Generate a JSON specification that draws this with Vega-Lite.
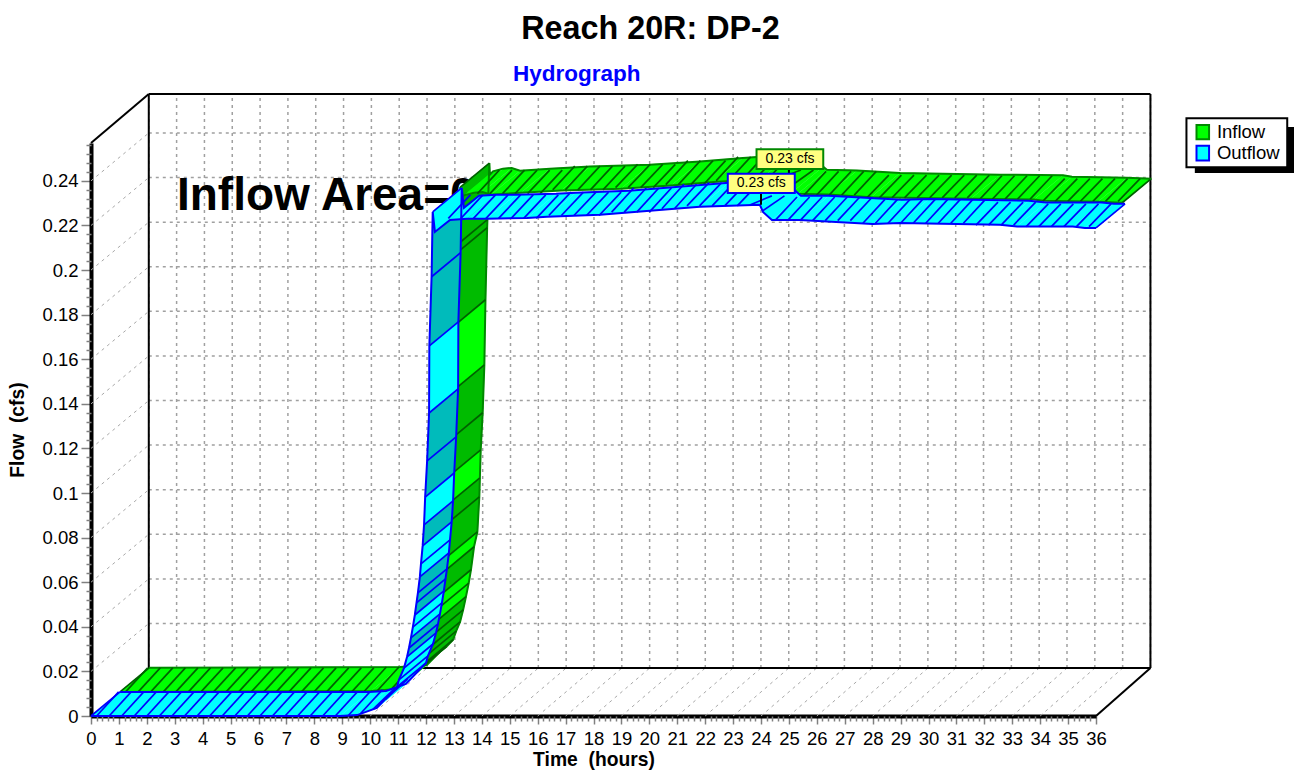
{"$schema":"https://vega.github.io/schema/vega-lite/v6.json","autosize":"none","width":1005,"height":573,"padding":{"left":91,"top":143,"right":198,"bottom":57},"background":"white","config":{"font":"Liberation Sans","view":{"stroke":null}},
"title":{"text":"Reach 20R: DP-2","fontSize":32.3,"fontWeight":"bold","color":"black","anchor":"middle","dx":57,"offset":18},
"datasets":{
"curve":[
{"s":"Outflow","c":"Outflow","t":0,"q":0},{"s":"Outflow","c":"Outflow","t":8.92,"q":0},{"s":"Outflow","c":"Outflow","t":9.53,"q":0.0004},{"s":"Outflow","c":"Outflow","t":10.24,"q":0.0036},{"s":"Outflow","c":"Outflow","t":10.96,"q":0.013},{"s":"Outflow","c":"Outflow","t":11.03,"q":0.0162},{"s":"Outflow","c":"Outflow","t":11.21,"q":0.0215},{"s":"Outflow","c":"OutflowDark","t":11.32,"q":0.0265},{"s":"Outflow","c":"OutflowDark","t":11.39,"q":0.0305},{"s":"Outflow","c":"Outflow","t":11.46,"q":0.035},{"s":"Outflow","c":"Outflow","t":11.53,"q":0.0399},{"s":"Outflow","c":"OutflowDark","t":11.6,"q":0.0453},{"s":"Outflow","c":"OutflowDark","t":11.66,"q":0.0507},{"s":"Outflow","c":"OutflowDark","t":11.71,"q":0.0552},{"s":"Outflow","c":"Outflow","t":11.78,"q":0.0624},{"s":"Outflow","c":"Outflow","t":11.82,"q":0.0682},{"s":"Outflow","c":"OutflowDark","t":11.88,"q":0.0763},{"s":"Outflow","c":"Outflow","t":11.93,"q":0.0857},{"s":"Outflow","c":"OutflowDark","t":11.97,"q":0.0982},{"s":"Outflow","c":"OutflowDark","t":12.04,"q":0.1144},{"s":"Outflow","c":"Outflow","t":12.11,"q":0.1359},{"s":"Outflow","c":"OutflowDark","t":12.12,"q":0.166},{"s":"Outflow","c":"OutflowDark","t":12.2,"q":0.197},{"s":"Outflow","c":"Outflow","t":12.24,"q":0.2261},{"s":"Outflow","c":"Outflow","t":12.32,"q":0.2171},{"s":"Outflow","c":"Outflow","t":12.86,"q":0.2225},{"s":"Outflow","c":"Outflow","t":13.47,"q":0.223},{"s":"Outflow","c":"Outflow","t":14.18,"q":0.223},{"s":"Outflow","c":"Outflow","t":15.62,"q":0.2234},{"s":"Outflow","c":"Outflow","t":16.33,"q":0.2239},{"s":"Outflow","c":"Outflow","t":18.23,"q":0.2248},{"s":"Outflow","c":"Outflow","t":20.02,"q":0.2266},{"s":"Outflow","c":"Outflow","t":21.81,"q":0.2284},{"s":"Outflow","c":"Outflow","t":23.96,"q":0.2293},{"s":"Outflow","c":"Outflow","t":24.07,"q":0.2261},{"s":"Outflow","c":"Outflow","t":24.39,"q":0.2225},{"s":"Outflow","c":"Outflow","t":25.39,"q":0.2225},{"s":"Outflow","c":"Outflow","t":28,"q":0.2207},{"s":"Outflow","c":"Outflow","t":28.98,"q":0.2211},{"s":"Outflow","c":"Outflow","t":32.56,"q":0.2203},{"s":"Outflow","c":"Outflow","t":33.17,"q":0.2195},{"s":"Outflow","c":"Outflow","t":35.17,"q":0.2195},{"s":"Outflow","c":"Outflow","t":35.6,"q":0.2189},{"s":"Outflow","c":"Outflow","t":36,"q":0.2189},
{"s":"Inflow","c":"Inflow","t":0,"q":0},{"s":"Inflow","c":"Inflow","t":8.99,"q":0.0004},{"s":"Inflow","c":"Inflow","t":9.95,"q":0.0013},{"s":"Inflow","c":"InflowDark","t":10.42,"q":0.0072},{"s":"Inflow","c":"InflowDark","t":10.65,"q":0.0095},{"s":"Inflow","c":"InflowDark","t":10.89,"q":0.0126},{"s":"Inflow","c":"InflowDark","t":11,"q":0.0165},{"s":"Inflow","c":"InflowDark","t":11.14,"q":0.0206},{"s":"Inflow","c":"InflowDark","t":11.25,"q":0.026},{"s":"Inflow","c":"Inflow","t":11.35,"q":0.0319},{"s":"Inflow","c":"Inflow","t":11.45,"q":0.038},{"s":"Inflow","c":"InflowDark","t":11.53,"q":0.044},{"s":"Inflow","c":"Inflow","t":11.64,"q":0.0543},{"s":"Inflow","c":"InflowDark","t":11.76,"q":0.061},{"s":"Inflow","c":"InflowDark","t":11.83,"q":0.0767},{"s":"Inflow","c":"Inflow","t":11.85,"q":0.0852},{"s":"Inflow","c":"InflowDark","t":11.88,"q":0.0978},{"s":"Inflow","c":"InflowDark","t":11.95,"q":0.1144},{"s":"Inflow","c":"Inflow","t":12.01,"q":0.1359},{"s":"Inflow","c":"InflowDark","t":12.05,"q":0.1651},{"s":"Inflow","c":"InflowDark","t":12.11,"q":0.1974},{"s":"Inflow","c":"InflowDark","t":12.12,"q":0.201},{"s":"Inflow","c":"InflowDark","t":12.19,"q":0.2264},{"s":"Inflow","c":"Inflow","t":12.21,"q":0.2212},{"s":"Inflow","c":"Inflow","t":12.32,"q":0.2227},{"s":"Inflow","c":"Inflow","t":12.68,"q":0.2239},{"s":"Inflow","c":"Inflow","t":12.99,"q":0.2242},{"s":"Inflow","c":"Inflow","t":13.29,"q":0.223},{"s":"Inflow","c":"Inflow","t":14.36,"q":0.2239},{"s":"Inflow","c":"Inflow","t":15.8,"q":0.2249},{"s":"Inflow","c":"Inflow","t":17.94,"q":0.2257},{"s":"Inflow","c":"Inflow","t":19.74,"q":0.2271},{"s":"Inflow","c":"Inflow","t":21.27,"q":0.2287},{"s":"Inflow","c":"Inflow","t":22.96,"q":0.2301},{"s":"Inflow","c":"Inflow","t":24,"q":0.2305},{"s":"Inflow","c":"Inflow","t":24.14,"q":0.2248},{"s":"Inflow","c":"Inflow","t":24.28,"q":0.2234},{"s":"Inflow","c":"Inflow","t":25.36,"q":0.2231},{"s":"Inflow","c":"Inflow","t":26.9,"q":0.2219},{"s":"Inflow","c":"Inflow","t":30.48,"q":0.2212},{"s":"Inflow","c":"Inflow","t":32.74,"q":0.2209},{"s":"Inflow","c":"Inflow","t":33.06,"q":0.2203},{"s":"Inflow","c":"Inflow","t":35.03,"q":0.2198},{"s":"Inflow","c":"Inflow","t":35.9,"q":0.2194}
],
"hatch":[
{"s":"Outflow","q0":0,"q1":0.0108,"ts":[0.2,0.65,1.1,1.55,2,2.45,2.9,3.35,3.8,4.25,4.7,5.15,5.6,6.05,6.5,6.95,7.4,7.85,8.3,8.75,9.2]},
{"s":"Outflow","q0":0.001,"q1":0.0118,"ts":[9.65]},{"s":"Outflow","q0":0.003,"q1":0.0125,"ts":[10.1]},{"s":"Outflow","q0":0.0075,"q1":0.0165,"ts":[10.55]},
{"s":"Outflow","q0":0.2232,"q1":0.2337,"ts":[12.8,13.25,13.7,14.15,14.6,15.05,15.5,15.95]},
{"s":"Outflow","q0":0.2245,"q1":0.235,"ts":[16.4,16.85,17.3,17.75,18.2]},
{"s":"Outflow","q0":0.226,"q1":0.2368,"ts":[18.65,19.1,19.55,20]},
{"s":"Outflow","q0":0.2275,"q1":0.2385,"ts":[20.45,20.9]},
{"s":"Outflow","q0":0.2288,"q1":0.2392,"ts":[21.35,21.8,22.25,22.7,23.15]},
{"s":"Outflow","q0":0.2292,"q1":0.2333,"ts":[23.6]},{"s":"Outflow","q0":0.2265,"q1":0.2333,"ts":[24.05]},
{"s":"Outflow","q0":0.2222,"q1":0.2328,"ts":[24.5,24.95,25.4,25.85,26.3,26.75,27.2]},
{"s":"Outflow","q0":0.221,"q1":0.2317,"ts":[27.65,28.1,28.55,29,29.45,29.9,30.35,30.8,31.25]},
{"s":"Outflow","q0":0.2202,"q1":0.2305,"ts":[31.7,32.15,32.6,33.05]},
{"s":"Outflow","q0":0.2195,"q1":0.2297,"ts":[33.5,33.95,34.4,34.85,35.3,35.75]},
{"s":"Inflow","q0":0,"q1":0.0108,"ts":[0.2,0.65,1.1,1.55,2,2.45,2.9,3.35,3.8,4.25,4.7,5.15,5.6,6.05,6.5,6.95,7.4,7.85,8.3]},
{"s":"Inflow","q0":0.0003,"q1":0.0112,"ts":[8.75,9.2,9.65]},
{"s":"Inflow","q0":0.2235,"q1":0.234,"ts":[12.8,13.25,13.7,14.15,14.6,15.05]},
{"s":"Inflow","q0":0.2252,"q1":0.2358,"ts":[15.5,15.95,16.4,16.85,17.3]},
{"s":"Inflow","q0":0.2262,"q1":0.2366,"ts":[17.75,18.2,18.65,19.1]},
{"s":"Inflow","q0":0.2275,"q1":0.2383,"ts":[19.55,20,20.45,20.9]},
{"s":"Inflow","q0":0.2292,"q1":0.24,"ts":[21.35,21.8,22.25,22.7,23.15]},
{"s":"Inflow","q0":0.2303,"q1":0.2341,"ts":[23.6]},{"s":"Inflow","q0":0.227,"q1":0.2341,"ts":[24.05]},
{"s":"Inflow","q0":0.2228,"q1":0.2335,"ts":[24.5,24.95,25.4,25.85,26.3]},
{"s":"Inflow","q0":0.2216,"q1":0.2318,"ts":[26.75,27.2,27.65,28.1,28.55,29,29.45,29.9,30.35]},
{"s":"Inflow","q0":0.221,"q1":0.2315,"ts":[30.8,31.25,31.7,32.15,32.6]},
{"s":"Inflow","q0":0.22,"q1":0.2302,"ts":[33.05,33.5,33.95,34.4,34.85,35.3,35.75]}
],
"hours":[{"t":0},{"t":1},{"t":2},{"t":3},{"t":4},{"t":5},{"t":6},{"t":7},{"t":8},{"t":9},{"t":10},{"t":11},{"t":12},{"t":13},{"t":14},{"t":15},{"t":16},{"t":17},{"t":18},{"t":19},{"t":20},{"t":21},{"t":22},{"t":23},{"t":24},{"t":25},{"t":26},{"t":27},{"t":28},{"t":29},{"t":30},{"t":31},{"t":32},{"t":33},{"t":34},{"t":35},{"t":36}],
"flows":[{"q":0.02},{"q":0.04},{"q":0.06},{"q":0.08},{"q":0.1},{"q":0.12},{"q":0.14},{"q":0.16},{"q":0.18},{"q":0.2},{"q":0.22},{"q":0.24}],
"frame":[{"a":2.07,"b":37.95,"u":0.279,"v":0.279},{"a":2.07,"b":2.07,"u":0.0215,"v":0.279},{"a":37.95,"b":37.95,"u":0.0215,"v":0.279},{"a":2.07,"b":37.95,"u":0.0215,"v":0.0215},{"a":0,"b":2.07,"u":0.257,"v":0.279},{"a":36,"b":37.95,"u":0,"v":0.0215}],
"tips":[{"s":"Inflow","a":23.84,"b":26.23,"u":0.2453,"v":0.2542,"t":25.04,"q":0.2498,"l":25,"la":0.2414,"lb":0.2453,"txt":"0.23 cfs"},{"s":"Outflow","a":22.81,"b":25.21,"u":0.2346,"v":0.2432,"t":24.01,"q":0.2389,"l":24,"la":0.2293,"lb":0.2346,"txt":"0.23 cfs"}],
"legend":[{"s":"Inflow","a":39.6,"b":40.05,"u":0.2587,"v":0.2651,"t":40.33,"q":0.262},{"s":"Outflow","a":39.6,"b":40.05,"u":0.2491,"v":0.2558,"t":40.33,"q":0.2526}],
"box":[{"a":39.54,"b":43.12,"u":0.2436,"v":0.2642,"k":"shadow"},{"a":39.24,"b":42.85,"u":0.2461,"v":0.2681,"k":"box"}]
},
"layer":[
{"data":{"name":"hours"},"transform":[{"calculate":"2.07+datum.t*0.9967","as":"tb"},{"calculate":"0.0215","as":"u"},{"calculate":"0.279","as":"v"}],"mark":{"type":"rule","color":"#a0a0a0","strokeWidth":1.5,"strokeDash":[3,4]},"encoding":{"x":{"field":"tb","type":"quantitative","scale":{"domain":[0,36],"nice":false,"zero":false},
"axis":{"orient":"bottom","title":"Time \u00a0(hours)","titleFontSize":19.3,"titleFontWeight":"bold","titleColor":"black","titlePadding":3,"grid":false,"labelFontSize":18.5,"labelColor":"black","labelPadding":5,"labelOverlap":false,"labelFlush":false,"labelBound":false,"domainColor":"black","domainWidth":4,"tickColor":"#808080","tickWidth":1.5,"tickSize":8,"format":"d",
"values":[0,1,2,3,4,5,6,7,8,9,10,11,12,13,14,15,16,17,18,19,20,21,22,23,24,25,26,27,28,29,30,31,32,33,34,35,36]}},
"y":{"field":"u","type":"quantitative","scale":{"domain":[0,0.257],"nice":false,"zero":false},
"axis":{"orient":"left","title":"Flow \u00a0(cfs)","titleFontSize":19.3,"titleFontWeight":"bold","titleColor":"black","titlePadding":14,"grid":false,"labelFontSize":18.5,"labelColor":"black","labelPadding":3,"labelOverlap":false,"labelFlush":false,"labelBound":false,"domainColor":"black","domainWidth":4,"tickColor":"#808080","tickWidth":1.5,"tickSize":10,"labelExpr":"''+round(datum.value*100)/100",
"values":[0,0.02,0.04,0.06,0.08,0.1,0.12,0.14,0.16,0.18,0.2,0.22,0.24]}},
"y2":{"field":"v"}}},
{"data":{"name":"hours"},"transform":[{"calculate":"2.07+datum.t*0.9967","as":"tb"},{"calculate":"0","as":"u"},{"calculate":"0.0215","as":"v"}],"mark":{"type":"rule","color":"#a8a8a8","strokeWidth":1,"strokeDash":[3,4]},"encoding":{"x":{"field":"t","type":"quantitative","scale":{"domain":[0,36],"nice":false,"zero":false},
"axis":{"orient":"bottom","title":null,"grid":false,"labels":false,"domain":false,"tickColor":"#808080","tickWidth":1.5,"tickSize":5,
"values":[0.2,0.4,0.6,0.8,1.2,1.4,1.6,1.8,2.2,2.4,2.6,2.8,3.2,3.4,3.6,3.8,4.2,4.4,4.6,4.8,5.2,5.4,5.6,5.8,6.2,6.4,6.6,6.8,7.2,7.4,7.6,7.8,8.2,8.4,8.6,8.8,9.2,9.4,9.6,9.8,10.2,10.4,10.6,10.8,11.2,11.4,11.6,11.8,12.2,12.4,12.6,12.8,13.2,13.4,13.6,13.8,14.2,14.4,14.6,14.8,15.2,15.4,15.6,15.8,16.2,16.4,16.6,16.8,17.2,17.4,17.6,17.8,18.2,18.4,18.6,18.8,19.2,19.4,19.6,19.8,20.2,20.4,20.6,20.8,21.2,21.4,21.6,21.8,22.2,22.4,22.6,22.8,23.2,23.4,23.6,23.8,24.2,24.4,24.6,24.8,25.2,25.4,25.6,25.8,26.2,26.4,26.6,26.8,27.2,27.4,27.6,27.8,28.2,28.4,28.6,28.8,29.2,29.4,29.6,29.8,30.2,30.4,30.6,30.8,31.2,31.4,31.6,31.8,32.2,32.4,32.6,32.8,33.2,33.4,33.6,33.8,34.2,34.4,34.6,34.8,35.2,35.4,35.6,35.8]}},"x2":{"field":"tb"},"y":{"field":"u","type":"quantitative","scale":{"domain":[0,0.257],"nice":false,"zero":false},
"axis":{"orient":"left","title":null,"grid":false,"labels":false,"domain":false,"tickColor":"#808080","tickWidth":1.5,"tickSize":5,
"values":[0.004,0.008,0.012,0.016,0.024,0.028,0.032,0.036,0.044,0.048,0.052,0.056,0.064,0.068,0.072,0.076,0.084,0.088,0.092,0.096,0.104,0.108,0.112,0.116,0.124,0.128,0.132,0.136,0.144,0.148,0.152,0.156,0.164,0.168,0.172,0.176,0.184,0.188,0.192,0.196,0.204,0.208,0.212,0.216,0.224,0.228,0.232,0.236,0.244,0.248,0.252,0.256]}},"y2":{"field":"v"}}},
{"data":{"name":"flows"},"transform":[{"calculate":"datum.q+0.0215","as":"u"},{"calculate":"2.07","as":"a"},{"calculate":"37.95","as":"b"}],"mark":{"type":"rule","color":"#a0a0a0","strokeWidth":1.5,"strokeDash":[3,4]},"encoding":{"x":{"field":"a","type":"quantitative","scale":{"domain":[0,36],"nice":false,"zero":false},"axis":null},"x2":{"field":"b"},"y":{"field":"u","type":"quantitative","scale":{"domain":[0,0.257],"nice":false,"zero":false},"axis":null}}},
{"data":{"name":"flows"},"transform":[{"calculate":"datum.q+0.0215","as":"u"},{"calculate":"0","as":"a"},{"calculate":"2.07","as":"b"}],"mark":{"type":"rule","color":"#a8a8a8","strokeWidth":1,"strokeDash":[3,4]},"encoding":{"x":{"field":"a","type":"quantitative","scale":{"domain":[0,36],"nice":false,"zero":false},"axis":null},"x2":{"field":"b"},"y":{"field":"q","type":"quantitative","scale":{"domain":[0,0.257],"nice":false,"zero":false},"axis":null},"y2":{"field":"u"}}},
{"data":{"name":"frame"},"mark":{"type":"rule","color":"black","strokeWidth":2},"encoding":{"x":{"field":"a","type":"quantitative","scale":{"domain":[0,36],"nice":false,"zero":false},"axis":null},"x2":{"field":"b"},"y":{"field":"u","type":"quantitative","scale":{"domain":[0,0.257],"nice":false,"zero":false},"axis":null},"y2":{"field":"v"}}},
{"data":{"values":[{"t":3.08,"q":0.227,"txt":"Inflow Area=0"}]},"mark":{"type":"text","align":"left","baseline":"alphabetic","fontSize":46,"fontWeight":"bold","color":"black"},"encoding":{"x":{"field":"t","type":"quantitative","scale":{"domain":[0,36],"nice":false,"zero":false},"axis":null},"y":{"field":"q","type":"quantitative","scale":{"domain":[0,0.257],"nice":false,"zero":false},"axis":null},"text":{"field":"txt"}}},
{"data":{"values":[{"t":17.4,"q":0.288,"txt":"Hydrograph"}]},"mark":{"type":"text","align":"center","baseline":"middle","fontSize":22.5,"fontWeight":"bold","color":"#0000ff"},"encoding":{"x":{"field":"t","type":"quantitative","scale":{"domain":[0,36],"nice":false,"zero":false},"axis":null},"y":{"field":"q","type":"quantitative","scale":{"domain":[0,0.257],"nice":false,"zero":false},"axis":null},"text":{"field":"txt"}}},

{"data":{"name":"curve"},"transform":[{"filter":"datum.s=='Inflow'"},{"window":[{"op":"lead","field":"t","as":"nt"},{"op":"lead","field":"q","as":"nq"}],"sort":[{"field":"t"}]},{"filter":"isValid(datum.nt)"},{"calculate":"[0,1,1,0]","as":"pa"},{"calculate":"[0,0,1,1]","as":"pb"},{"calculate":"[0,1,2,3]","as":"i"},{"flatten":["pa","pb","i"]},{"calculate":"(datum.pa?datum.nt:datum.t)+(1+datum.pb)*1.04","as":"px"},{"calculate":"(datum.pa?datum.nq:datum.q)+(1+datum.pb)*0.0108","as":"py"},{"calculate":"''+datum.t","as":"g"}],"mark":{"type":"line","strokeWidth":0.5,"interpolate":"linear"},"encoding":{"x":{"field":"px","type":"quantitative","scale":{"domain":[0,36],"nice":false,"zero":false},"axis":null},"y":{"field":"py","type":"quantitative","scale":{"domain":[0,0.257],"nice":false,"zero":false},"axis":null},"detail":{"field":"g"},"order":{"field":"i","type":"quantitative"},"fill":{"field":"c","type":"nominal","legend":null,"scale":{"domain":["Inflow","InflowDark","Outflow","OutflowDark"],"range":["#00ff00","#00bb00","#00ffff","#00bbbb"]}},"stroke":{"field":"c","type":"nominal","legend":null,"scale":{"domain":["Inflow","InflowDark","Outflow","OutflowDark"],"range":["#00ff00","#00bb00","#00ffff","#00bbbb"]}}}},
{"data":{"name":"curve"},"transform":[{"filter":"datum.s=='Inflow'"},{"calculate":"[1,2]","as":"d"},{"flatten":["d"]},{"calculate":"datum.t+datum.d*1.04","as":"px"},{"calculate":"datum.q+datum.d*0.0108","as":"py"}],"mark":{"type":"line","color":"#008800","strokeWidth":2},"encoding":{"x":{"field":"px","type":"quantitative","scale":{"domain":[0,36],"nice":false,"zero":false},"axis":null},"y":{"field":"py","type":"quantitative","scale":{"domain":[0,0.257],"nice":false,"zero":false},"axis":null},"detail":{"field":"d"},"order":{"field":"t","type":"quantitative"}}},
{"data":{"name":"curve"},"transform":[{"filter":"datum.s=='Inflow'&&((datum.t>=10.4&&datum.t<=12.2)||datum.t==0||datum.t==35.9)"},{"calculate":"datum.t+1.04","as":"a"},{"calculate":"datum.t+2.08","as":"b"},{"calculate":"datum.q+0.0108","as":"u"},{"calculate":"datum.q+0.0216","as":"v"}],"mark":{"type":"rule","color":"#006000","strokeWidth":1.7},"encoding":{"x":{"field":"a","type":"quantitative","scale":{"domain":[0,36],"nice":false,"zero":false},"axis":null},"x2":{"field":"b"},"y":{"field":"u","type":"quantitative","scale":{"domain":[0,0.257],"nice":false,"zero":false},"axis":null},"y2":{"field":"v"}}},
{"data":{"name":"hatch"},"transform":[{"filter":"datum.s=='Inflow'"},{"flatten":["ts"]},{"calculate":"datum.ts+1.04","as":"a"},{"calculate":"datum.ts+1.83","as":"b"},{"calculate":"datum.q0+0.0108","as":"u"},{"calculate":"datum.q1+0.0108","as":"v"}],"mark":{"type":"rule","color":"#006000","strokeWidth":1.7},"encoding":{"x":{"field":"a","type":"quantitative","scale":{"domain":[0,36],"nice":false,"zero":false},"axis":null},"x2":{"field":"b"},"y":{"field":"u","type":"quantitative","scale":{"domain":[0,0.257],"nice":false,"zero":false},"axis":null},"y2":{"field":"v"}}},

{"data":{"name":"curve"},"transform":[{"filter":"datum.s=='Outflow'"},{"window":[{"op":"lead","field":"t","as":"nt"},{"op":"lead","field":"q","as":"nq"}],"sort":[{"field":"t"}]},{"filter":"isValid(datum.nt)"},{"calculate":"[0,1,1,0]","as":"pa"},{"calculate":"[0,0,1,1]","as":"pb"},{"calculate":"[0,1,2,3]","as":"i"},{"flatten":["pa","pb","i"]},{"calculate":"(datum.pa?datum.nt:datum.t)+datum.pb*1.04","as":"px"},{"calculate":"(datum.pa?datum.nq:datum.q)+datum.pb*0.0108","as":"py"},{"calculate":"''+datum.t","as":"g"}],"mark":{"type":"line","strokeWidth":0.5},"encoding":{"x":{"field":"px","type":"quantitative","scale":{"domain":[0,36],"nice":false,"zero":false},"axis":null},"y":{"field":"py","type":"quantitative","scale":{"domain":[0,0.257],"nice":false,"zero":false},"axis":null},"detail":{"field":"g"},"order":{"field":"i","type":"quantitative"},"fill":{"field":"c","type":"nominal","legend":null,"scale":{"domain":["Inflow","InflowDark","Outflow","OutflowDark"],"range":["#00ff00","#00bb00","#00ffff","#00bbbb"]}},"stroke":{"field":"c","type":"nominal","legend":null,"scale":{"domain":["Inflow","InflowDark","Outflow","OutflowDark"],"range":["#00ff00","#00bb00","#00ffff","#00bbbb"]}}}},
{"data":{"name":"curve"},"transform":[{"filter":"datum.s=='Outflow'"},{"calculate":"[0,1]","as":"d"},{"flatten":["d"]},{"calculate":"datum.t+datum.d*1.04","as":"px"},{"calculate":"datum.q+datum.d*0.0108","as":"py"}],"mark":{"type":"line","color":"#0000ff","strokeWidth":2},"encoding":{"x":{"field":"px","type":"quantitative","scale":{"domain":[0,36],"nice":false,"zero":false},"axis":null},"y":{"field":"py","type":"quantitative","scale":{"domain":[0,0.257],"nice":false,"zero":false},"axis":null},"detail":{"field":"d"},"order":{"field":"t","type":"quantitative"}}},
{"data":{"name":"curve"},"transform":[{"filter":"datum.s=='Outflow'&&((datum.t>=10.96&&datum.t<=12.24)||datum.t==0||datum.t==36)"},{"calculate":"datum.t+1.04","as":"b"},{"calculate":"datum.q+0.0108","as":"v"}],"mark":{"type":"rule","color":"#0000ff","strokeWidth":1.7},"encoding":{"x":{"field":"t","type":"quantitative","scale":{"domain":[0,36],"nice":false,"zero":false},"axis":null},"x2":{"field":"b"},"y":{"field":"q","type":"quantitative","scale":{"domain":[0,0.257],"nice":false,"zero":false},"axis":null},"y2":{"field":"v"}}},
{"data":{"name":"hatch"},"transform":[{"filter":"datum.s=='Outflow'"},{"flatten":["ts"]},{"calculate":"datum.ts+0.79","as":"b"}],"mark":{"type":"rule","color":"#0000ff","strokeWidth":1.7},"encoding":{"x":{"field":"ts","type":"quantitative","scale":{"domain":[0,36],"nice":false,"zero":false},"axis":null},"x2":{"field":"b"},"y":{"field":"q0","type":"quantitative","scale":{"domain":[0,0.257],"nice":false,"zero":false},"axis":null},"y2":{"field":"q1"}}},

{"data":{"name":"tips"},"mark":{"type":"rule","color":"black","strokeWidth":2},"encoding":{"x":{"field":"l","type":"quantitative","scale":{"domain":[0,36],"nice":false,"zero":false},"axis":null},"y":{"field":"la","type":"quantitative","scale":{"domain":[0,0.257],"nice":false,"zero":false},"axis":null},"y2":{"field":"lb"}}},
{"data":{"name":"tips"},"mark":{"type":"rect","fill":"#ffff80","strokeWidth":2},"encoding":{"x":{"field":"a","type":"quantitative","scale":{"domain":[0,36],"nice":false,"zero":false},"axis":null},"x2":{"field":"b"},"y":{"field":"u","type":"quantitative","scale":{"domain":[0,0.257],"nice":false,"zero":false},"axis":null},"y2":{"field":"v"},"stroke":{"field":"s","type":"nominal","legend":null,"scale":{"domain":["Inflow","Outflow"],"range":["#008800","#0000ff"]}}}},
{"data":{"name":"tips"},"mark":{"type":"text","align":"center","baseline":"middle","fontSize":14,"color":"black"},"encoding":{"x":{"field":"t","type":"quantitative","scale":{"domain":[0,36],"nice":false,"zero":false},"axis":null},"y":{"field":"q","type":"quantitative","scale":{"domain":[0,0.257],"nice":false,"zero":false},"axis":null},"text":{"field":"txt"}}},

{"data":{"name":"box"},"transform":[{"filter":"datum.k=='shadow'"}],"mark":{"type":"rect","fill":"black"},"encoding":{"x":{"field":"a","type":"quantitative","scale":{"domain":[0,36],"nice":false,"zero":false},"axis":null},"x2":{"field":"b"},"y":{"field":"u","type":"quantitative","scale":{"domain":[0,0.257],"nice":false,"zero":false},"axis":null},"y2":{"field":"v"}}},
{"data":{"name":"box"},"transform":[{"filter":"datum.k=='box'"}],"mark":{"type":"rect","fill":"white","stroke":"black","strokeWidth":2},"encoding":{"x":{"field":"a","type":"quantitative","scale":{"domain":[0,36],"nice":false,"zero":false},"axis":null},"x2":{"field":"b"},"y":{"field":"u","type":"quantitative","scale":{"domain":[0,0.257],"nice":false,"zero":false},"axis":null},"y2":{"field":"v"}}},
{"data":{"name":"legend"},"mark":{"type":"rect","strokeWidth":2},"encoding":{"x":{"field":"a","type":"quantitative","scale":{"domain":[0,36],"nice":false,"zero":false},"axis":null},"x2":{"field":"b"},"y":{"field":"u","type":"quantitative","scale":{"domain":[0,0.257],"nice":false,"zero":false},"axis":null},"y2":{"field":"v"},"fill":{"field":"s","type":"nominal","legend":null,"scale":{"domain":["Inflow","InflowDark","Outflow","OutflowDark"],"range":["#00ff00","#00bb00","#00ffff","#00bbbb"]}},"stroke":{"field":"s","type":"nominal","legend":null,"scale":{"domain":["Inflow","Outflow"],"range":["#008800","#0000ff"]}}}},
{"data":{"name":"legend"},"mark":{"type":"text","align":"left","baseline":"middle","fontSize":18.5,"color":"black"},"encoding":{"x":{"field":"t","type":"quantitative","scale":{"domain":[0,36],"nice":false,"zero":false},"axis":null},"y":{"field":"q","type":"quantitative","scale":{"domain":[0,0.257],"nice":false,"zero":false},"axis":null},"text":{"field":"s"}}}
],
"resolve":{"scale":{"stroke":"independent"},"axis":{"x":"independent","y":"independent"}}
}
